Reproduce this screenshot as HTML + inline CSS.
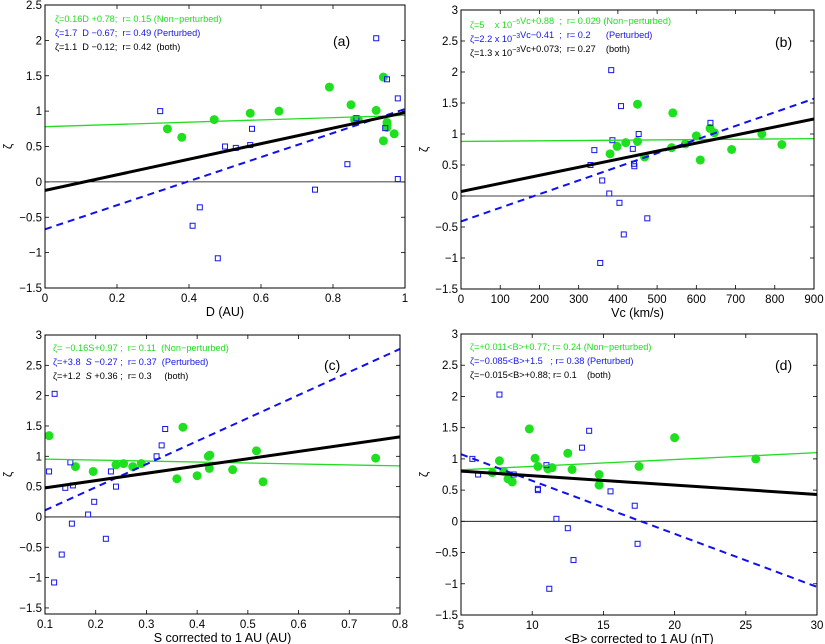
<!DOCTYPE html>
<html><head><meta charset="utf-8">
<style>
html,body{margin:0;padding:0;background:#fff;}
svg{display:block;font-family:"Liberation Sans",sans-serif;}
svg text{white-space:pre;}
</style></head>
<body>
<svg id="fig" width="825" height="644" viewBox="0 0 825 644" xmlns="http://www.w3.org/2000/svg"></svg>
<script>
// Panel (a)
const aGreenX=[0.34,0.38,0.47,0.57,0.65,0.79,0.85,0.86,0.87,0.92,0.94,0.94,0.95,0.95,0.95,0.97];
const aGreenY=[0.75,0.63,0.88,0.97,1.0,1.34,1.09,0.88,0.88,1.01,1.48,0.58,0.84,0.80,0.77,0.68];
const aBlueX=[0.32,0.41,0.43,0.48,0.5,0.53,0.57,0.575,0.75,0.84,0.865,0.92,0.945,0.95,0.98,0.98];
const aBlueY=[1.0,-0.62,-0.36,-1.08,0.5,0.48,0.52,0.75,-0.11,0.25,0.9,2.03,0.76,1.45,1.18,0.04];
const aFits=[[0.16,0.78],[1.7,-0.67],[1.1,-0.12]];
const aXTicks=[0,0.2,0.4,0.6,0.8,1];
const aYTicks=[-1.5,-1,-0.5,0,0.5,1,1.5,2,2.5];
// Panel (b)
const bGreenX=[380,398,420,450,450,468,537,540,572,600,610,635,646,690,767,818];
const bGreenY=[0.68,0.8,0.86,0.88,1.48,0.63,0.78,1.34,0.84,0.97,0.58,1.09,1.02,0.75,1.0,0.83];
const bBlueX=[330,340,355,360,378,383,386,404,408,415,438,441,442,453,475,636];
const bBlueY=[0.5,0.74,-1.08,0.25,0.04,2.03,0.9,-0.11,1.45,-0.62,0.76,0.52,0.48,1.0,-0.36,1.18];
const bFits=[[5e-5,0.88],[2.2e-3,-0.41],[1.3e-3,0.073]];
const bXTicks=[0,100,200,300,400,500,600,700,800,900];
const bYTicks=[-1.5,-1,-0.5,0,0.5,1,1.5,2,2.5,3];
// Panel (c)
const cGreenX=[0.108,0.16,0.195,0.24,0.255,0.273,0.29,0.36,0.372,0.4,0.422,0.424,0.425,0.47,0.517,0.53,0.752];
const cGreenY=[1.34,0.83,0.75,0.86,0.88,0.83,0.88,0.63,1.48,0.68,1.0,0.8,1.02,0.78,1.09,0.58,0.97];
const cBlueX=[0.108,0.118,0.119,0.133,0.14,0.15,0.153,0.155,0.185,0.197,0.22,0.23,0.24,0.32,0.33,0.337];
const cBlueY=[0.75,-1.08,2.03,-0.62,0.48,0.9,-0.11,0.52,0.04,0.25,-0.36,0.75,0.5,1.0,1.18,1.45];
const cFits=[[-0.16,0.97],[3.8,-0.27],[1.2,0.36]];
const cXTicks=[0.1,0.2,0.3,0.4,0.5,0.6,0.7,0.8];
const cYTicks=[-1.5,-1,-0.5,0,0.5,1,1.5,2,2.5,3];
// Panel (d)
const dGreenX=[7.2,7.7,8.0,8.3,8.6,9.8,10.2,10.4,11.1,11.4,12.5,12.8,14.7,14.7,17.5,20,25.7];
const dGreenY=[0.78,0.97,0.8,0.68,0.63,1.48,1.01,0.88,0.84,0.86,1.09,0.83,0.75,0.58,0.88,1.34,1.0];
const dBlueX=[5.8,6.2,7.7,8.7,10.4,10.4,11,11.2,11.7,12.5,12.9,13.5,14,15.5,17.2,17.4];
const dBlueY=[1.0,0.75,2.03,0.75,0.52,0.5,0.9,-1.08,0.04,-0.11,-0.62,1.18,1.45,0.48,0.25,-0.36];
const dFits=[[0.011,0.77],[-0.085,1.5],[-0.015,0.88]];
const dXTicks=[5,10,15,20,25,30];
const dYTicks=[-1.5,-1,-0.5,0,0.5,1,1.5,2,2.5,3];

const NS="http://www.w3.org/2000/svg";
const fig=document.getElementById('fig');
function mk(tag,attrs,parent,text){const e=document.createElementNS(NS,tag);for(const k in attrs)e.setAttribute(k,attrs[k]);if(text!==undefined)e.textContent=text;(parent||fig).appendChild(e);return e;}

function panel(o){
  const g=mk('g',{});
  
  
  const sx=v=>o.x0+(v-o.xmin)/(o.xmax-o.xmin)*(o.x1-o.x0);
  const sy=v=>o.y1-(v-o.ymin)/(o.ymax-o.ymin)*(o.y1-o.y0);
  o.xt.forEach(t=>{const x=sx(t);
    mk('line',{x1:x,x2:x,y1:o.y1,y2:o.y1-4,stroke:'#000','stroke-width':0.8},g);
    mk('line',{x1:x,x2:x,y1:o.y0,y2:o.y0+4,stroke:'#000','stroke-width':0.8},g);
    const tl=mk('text',{x:x,y:o.y1+14,'font-size':11.5,'text-anchor':'middle'},g,String(t));
    
    
  });
  o.yt.forEach(t=>{const y=sy(t);
    mk('line',{x1:o.x0,x2:o.x0+4,y1:y,y2:y,stroke:'#000','stroke-width':0.8},g);
    mk('line',{x1:o.x1,x2:o.x1-4,y1:y,y2:y,stroke:'#000','stroke-width':0.8},g);
    const tl=mk('text',{x:o.x0-3,y:y+4,'font-size':11.5,'text-anchor':'end'},g,String(t).replace('-','\u2212'));
    
    
  });
  mk('line',{x1:o.x0,x2:o.x1,y1:sy(0),y2:sy(0),stroke:'#000','stroke-width':0.8},g);
  const clip='clip'+o.id;
  const cp=mk('clipPath',{id:clip},g);mk('rect',{x:o.x0,y:o.y0,width:o.x1-o.x0,height:o.y1-o.y0},cp);
  const pg=mk('g',{'clip-path':'url(#'+clip+')'},g);
  o.gx.forEach((v,i)=>{const c=mk('circle',{cx:sx(v),cy:sy(o.gy[i]),r:4.5,fill:'#1fe01f'},pg);
    
    });
  o.bx.forEach((v,i)=>{const r=mk('rect',{x:sx(v)-2.5,y:sy(o.by[i])-2.5,width:5,height:5,fill:'none',stroke:'#1515ee','stroke-width':1},pg);
    
    });
  const styles=[{stroke:'#22dd22','stroke-width':1.3},{stroke:'#1010ee','stroke-width':2,'stroke-dasharray':'7,5'},{stroke:'#000','stroke-width':3}];
  const names=['non-perturbed-fit','perturbed-fit','both-fit'];
  o.fits.forEach((f,i)=>{const a=Object.assign({x1:sx(o.xmin),y1:sy(f[0]*o.xmin+f[1]),x2:sx(o.xmax),y2:sy(f[0]*o.xmax+f[1])},styles[i]);
    const l=mk('line',a,pg);
    
    });
  const fr=mk('rect',{x:o.x0,y:o.y0,width:o.x1-o.x0,height:o.y1-o.y0,fill:'none',stroke:'#000','stroke-width':1},g);
  
  
  const xl=mk('text',{x:(o.x0+o.x1)/2,y:o.y1+28,'font-size':12.5,'text-anchor':'middle'},g,o.xlabel);
  
  
  const yl=mk('text',{x:0,y:0,'font-size':12,'text-anchor':'middle',transform:'translate('+(o.x0-33)+','+((o.y0+o.y1)/2)+') rotate(-90)'},g,'ζ');
  
  
  const pl=mk('text',{x:o.px,y:o.py,'font-size':14},g,o.plabel);
  
  
  const cols=['#22dd22','#1515ee','#000'];
  o.leg.forEach((s,i)=>{const t=mk('text',{x:o.lx,y:o.ly+i*14,'font-size':9.2,fill:cols[i]},g);
    t.innerHTML=s;
    
    });
}
const sup=s=>'<tspan dy="-4" font-size="7">'+s+'</tspan><tspan dy="4"></tspan>';
panel({id:'a',x0:45,x1:405,y0:5,y1:288,xmin:0,xmax:1,ymin:-1.5,ymax:2.5,xt:aXTicks,yt:aYTicks,
  gx:aGreenX,gy:aGreenY,bx:aBlueX,by:aBlueY,fits:aFits,xlabel:'D (AU)',plabel:'(a)',px:333,py:46,lx:55,ly:22,
  leg:['ζ=0.16D +0.78;  r= 0.15 (Non−perturbed)','ζ=1.7  D −0.67;  r= 0.49 (Perturbed)','ζ=1.1  D −0.12;  r= 0.42  (both)']});
panel({id:'b',x0:461,x1:814,y0:10,y1:289,xmin:0,xmax:900,ymin:-1.5,ymax:3,xt:bXTicks,yt:bYTicks,
  gx:bGreenX,gy:bGreenY,bx:bBlueX,by:bBlueY,fits:bFits,xlabel:'Vc (km/s)',plabel:'(b)',px:775,py:47,lx:470,ly:28,
  leg:['ζ=5    x 10'+sup('−5')+'Vc+0.88  ;  r= 0.029 (Non−perturbed)','ζ=2.2 x 10'+sup('−3')+'Vc−0.41  ;  r= 0.2      (Perturbed)','ζ=1.3 x 10'+sup('−3')+'Vc+0.073;  r= 0.27    (both)']});
panel({id:'c',x0:45,x1:400,y0:335,y1:614,xmin:0.1,xmax:0.8,ymin:-1.6,ymax:3,xt:cXTicks,yt:cYTicks,
  gx:cGreenX,gy:cGreenY,bx:cBlueX,by:cBlueY,fits:cFits,xlabel:'S corrected to 1 AU (AU)',plabel:'(c)',px:324,py:370,lx:53,ly:351,
  leg:['ζ= −0.16S+0.97 ;  r= 0.11  (Non−perturbed)','ζ=+3.8  <tspan font-style="italic">S</tspan> −0.27 ;  r= 0.37  (Perturbed)','ζ=+1.2  <tspan font-style="italic">S</tspan> +0.36 ;  r= 0.3     (both)']});
panel({id:'d',x0:461,x1:817,y0:334,y1:615,xmin:5,xmax:30,ymin:-1.5,ymax:3,xt:dXTicks,yt:dYTicks,
  gx:dGreenX,gy:dGreenY,bx:dBlueX,by:dBlueY,fits:dFits,xlabel:'<B> corrected to 1 AU (nT)',plabel:'(d)',px:775,py:370,lx:470,ly:350,
  leg:['ζ=+0.011&lt;B&gt;+0.77; r= 0.24 (Non−perturbed)','ζ=−0.085&lt;B&gt;+1.5   ; r= 0.38 (Perturbed)','ζ=−0.015&lt;B&gt;+0.88; r= 0.1    (both)']});
</script>
</body></html>
